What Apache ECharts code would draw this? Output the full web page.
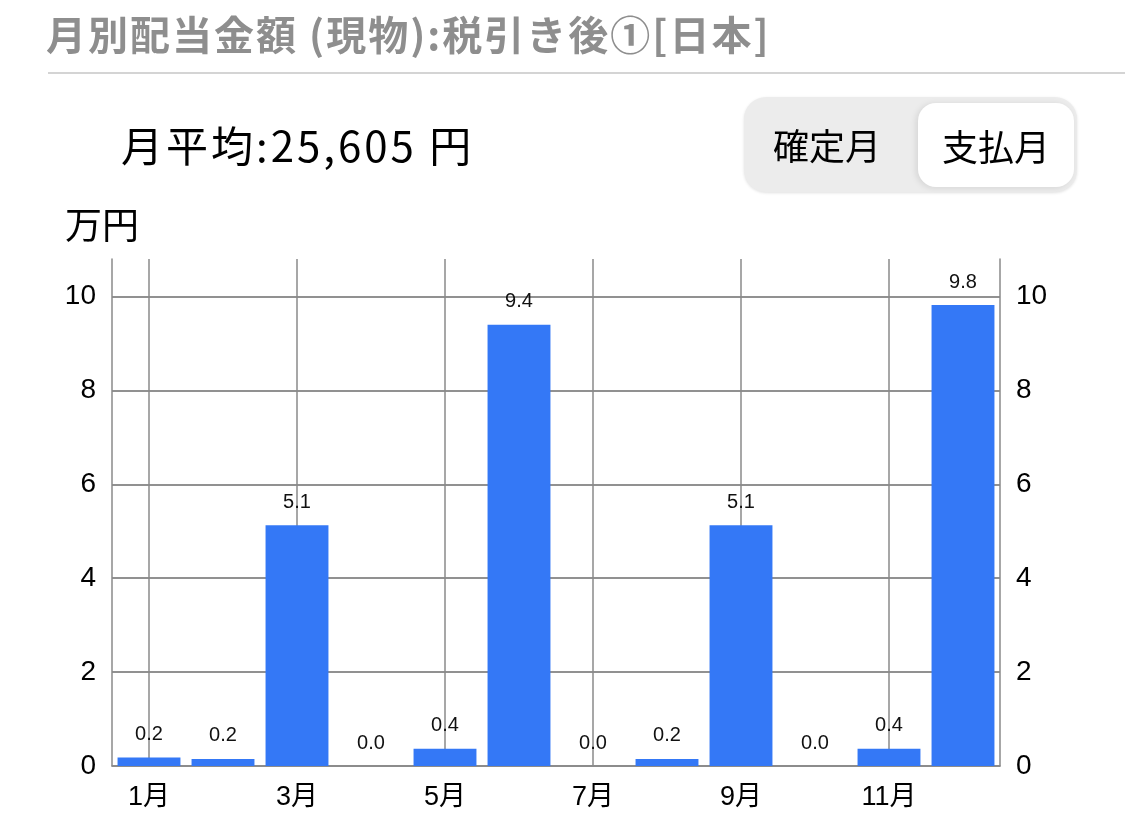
<!DOCTYPE html>
<html>
<head>
<meta charset="utf-8">
<script src="https://cdn.jsdelivr.net/npm/echarts@6/dist/echarts.min.js"></script>
<style>
  html, body { margin:0; padding:0; background:#fff; width:1125px; height:829px; overflow:hidden; }
  body { font-family: "Noto Sans CJK JP", "Liberation Sans", sans-serif; position:relative; }
  #title { position:absolute; left:46px; top:6px; font-size:40px; font-weight:bold; color:#8e8e8e; white-space:nowrap; line-height:54px; letter-spacing:2px; }
  #rule { position:absolute; left:48px; top:72px; width:1077px; height:2px; background:#d4d4d4; }
  #avg { position:absolute; left:121px; top:114px; font-size:42px; color:#000; white-space:nowrap; line-height:60px; letter-spacing:3px; }
  #toggle { position:absolute; left:744px; top:97px; width:333px; height:95px; border-radius:22px; background:#ececec; box-shadow:0 1px 3px rgba(0,0,0,0.12); }
  #t1 { position:absolute; left:0; top:0; width:166px; height:95px; line-height:95px; text-align:center; font-size:36px; color:#000; }
  #t2 { position:absolute; left:174px; top:6px; width:156px; height:84px; line-height:84px; text-align:center; font-size:36px; color:#000; background:#fff; border-radius:18px; box-shadow:-2px 1px 6px rgba(0,0,0,0.10); }
  #unit { position:absolute; left:65px; top:198px; font-size:37px; color:#000; line-height:50px; }
  #chart { position:absolute; left:0; top:0; width:1125px; height:829px; }
</style>
</head>
<body>
<div id="chart"></div>
<div id="title">月別配当金額 (現物):税引き後①[日本]</div>
<div id="rule"></div>
<div id="avg">月平均:25,605 円</div>
<div id="toggle"><div id="t1">確定月</div><div id="t2">支払月</div></div>
<div id="unit">万円</div>
<script>
const months = ['1月','2月','3月','4月','5月','6月','7月','8月','9月','10月','11月','12月'];
const dividends = [0.18, 0.15, 5.13, 0, 0.37, 9.40, 0, 0.15, 5.13, 0, 0.37, 9.82];
const gridMonths = ['1月','3月','5月','7月','9月','11月'];
const yMax = 10.8;
const yInterval = 2;

const chart = echarts.init(document.getElementById('chart'), null, {renderer:'canvas'});
const yAxisBase = {
  type:'value', min:0, max:yMax, interval:yInterval,
  axisLine:{show:true, lineStyle:{color:'#8a8a8a', width:1.5}},
  axisTick:{show:false},
  splitLine:{show:true, showMaxLine:false, lineStyle:{color:'#8a8a8a', width:1.5}},
  axisLabel:{
    color:'#000', fontSize:28, fontFamily:'Liberation Sans, Noto Sans, sans-serif', margin:16,
    showMaxLabel:false,
    formatter: v => (Math.abs(v % yInterval) < 1e-9 ? String(v) : '')
  }
};
chart.setOption({
  animation:false,
  grid:{left:112, right:125, top:259, bottom:63, containLabel:false},
  xAxis:{
    type:'category', data:months,
    axisLine:{show:true, lineStyle:{color:'#8a8a8a', width:1.5}},
    axisTick:{show:false},
    splitLine:{show:false},
    axisLabel:{color:'#000', fontSize:27, interval:1, margin:18, fontFamily:'Liberation Sans, Noto Sans CJK JP, sans-serif'}
  },
  yAxis:[
    Object.assign({}, yAxisBase, {position:'left'}),
    Object.assign({}, yAxisBase, {position:'right'})
  ],
  series:[
    {
      type:'line', data:[], z:0, silent:true,
      markLine:{
        silent:true, symbol:['none','none'], z:0,
        label:{show:false},
        lineStyle:{color:'#8a8a8a', width:1.5, type:'solid'},
        data: gridMonths.map(m => ({xAxis:m}))
      }
    },
    {
      type:'bar', data:dividends, z:3,
      barCategoryGap:'15%',
      itemStyle:{color:'#3478F6'},
      label:{
        show:true, position:'top', distance:13, color:'#111', fontSize:20,
        fontFamily:'Liberation Sans, Noto Sans, sans-serif',
        formatter: p => (Math.round(p.value*10)/10).toFixed(1)
      }
    }
  ]
});
</script>
</body>
</html>
